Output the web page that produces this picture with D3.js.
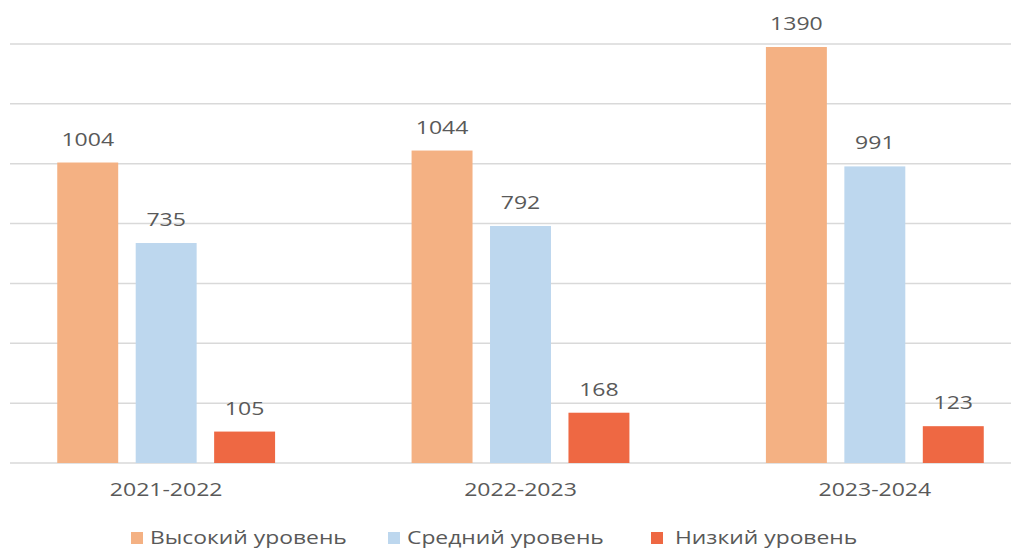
<!DOCTYPE html>
<html>
<head>
<meta charset="utf-8">
<script src="https://cdn.jsdelivr.net/npm/d3@7"></script>
<style>
	body { margin: 0; background: #fff; }
	text { font-family: "Open Sans", sans-serif; fill: #595959; }
</style>
</head>
<body>
<svg id="chart" width="1011" height="550"></svg>
<script>
/*=================
=== Data
=================*/
var years = ['2021-2022', '2022-2023', '2023-2024'];
var levels = ['Высокий уровень', 'Средний уровень', 'Низкий уровень'];
var highVals = [1004, 1044, 1390];
var midVals = [735, 792, 991];
var lowVals = [105, 168, 123];
var yTicks = [0, 200, 400, 600, 800, 1000, 1200, 1400];

var colors = ['#F4B183', '#BDD7EE', '#EE6843'];
var seriesVals = [highVals, midVals, lowVals];

var svg = d3.select('#chart');
var sx = 1.28; // text looks horizontally stretched in the reference

// Scales
var x0 = d3.scaleBand()
	.domain(years)
	.range([-11, 1052]);

var x1 = d3.scaleBand()
	.domain(levels)
	.range([0, x0.bandwidth()])
	.paddingInner(0.223)
	.paddingOuter(0.87);

var y = d3.scaleLinear()
	.domain([0, 1400])
	.range([463, 44]);

// Gridlines
svg.append('g')
	.selectAll('line')
	.data(yTicks)
	.enter()
	.append('line')
	.attr('x1', 10)
	.attr('x2', 1011)
	.attr('y1', d => y(d))
	.attr('y2', d => y(d))
	.attr('stroke', '#d9d9d9')
	.attr('stroke-width', 1.5);

// Flatten data
var rows = [];
years.forEach((yr, i) => {
	levels.forEach((lv, j) => {
		rows.push({ year: yr, level: lv, value: seriesVals[j][i], color: colors[j] });
	});
});

var bars = svg.append('g');

bars.selectAll('rect')
	.data(rows)
	.enter()
	.append('rect')
	.attr('x', d => x0(d.year) + x1(d.level))
	.attr('y', d => y(d.value))
	.attr('width', x1.bandwidth())
	.attr('height', d => y(0) - y(d.value))
	.attr('fill', d => d.color);

// Value labels
bars.selectAll('text')
	.data(rows)
	.enter()
	.append('text')
	.attr('text-anchor', 'middle')
	.attr('font-size', 18)
	.attr('transform', d => `translate(${x0(d.year) + x1(d.level) + x1.bandwidth() / 2},${y(d.value) - 17}) scale(${sx},1)`)
	.text(d => d.value);

// Category labels
svg.append('g')
	.selectAll('text')
	.data(years)
	.enter()
	.append('text')
	.attr('text-anchor', 'middle')
	.attr('font-size', 18)
	.attr('transform', d => `translate(${x0(d) + x0.bandwidth() / 2},496) scale(${sx},1)`)
	.text(d => d);

// Legend
var legendX = [131, 388, 651];
var legendTextX = [150, 407, 675];

var legend = svg.append('g')
	.selectAll('g')
	.data(levels)
	.enter()
	.append('g');

legend.append('rect')
	.attr('x', (d, i) => legendX[i])
	.attr('y', 532)
	.attr('width', 12)
	.attr('height', 12)
	.attr('fill', (d, i) => colors[i]);

legend.append('text')
	.attr('font-size', 18)
	.attr('transform', (d, i) => `translate(${legendTextX[i]},544) scale(1.27,1)`)
	.text(d => d);
</script>
</body>
</html>
